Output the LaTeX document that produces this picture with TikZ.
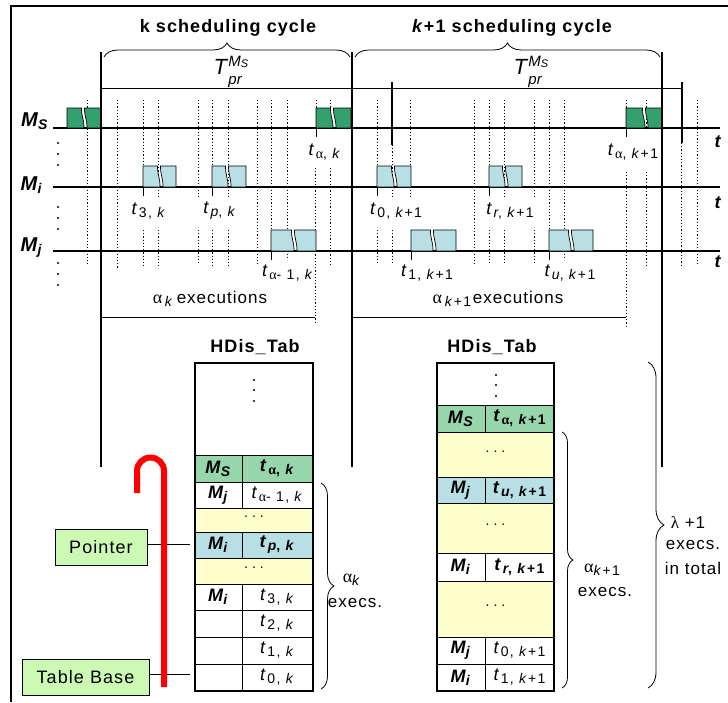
\documentclass[tikz,border=0pt]{standalone}
\usepackage{fontspec}
\setmainfont{Liberation Sans}
\newfontfamily\grk{Liberation Serif}
\newfontfamily\ls[LetterSpace=6]{Liberation Sans}
\newfontfamily\lss[LetterSpace=10]{Liberation Sans}
\usetikzlibrary{decorations.pathreplacing}
\definecolor{msg}{RGB}{52,160,110}
\definecolor{mib}{RGB}{184,224,228}
\definecolor{tg}{RGB}{150,214,170}
\definecolor{ty}{RGB}{255,255,204}
\definecolor{pg}{RGB}{204,250,180}
\newcommand{\fs}[1]{\fontsize{#1}{#1}\selectfont}
\newcommand{\sbs}[1]{\raisebox{-0.3em}{\lss\fs{14}#1}}
\newcommand{\tlab}[1]{{\fs{18}\textit{t}}\,\sbs{#1}}
\newcommand{\al}{{\grk α}}
\newcommand{\kk}{\textit{k}}
\newcommand{\mlab}[2]{{\fs{#1}\textbf{\textit{M}}}\sbs{\textbf{\textit{#2}}}}
\newcommand{\tpr}{{\fs{22}\textit{T}}\raisebox{-10pt}{\fs{15}\renewcommand{\arraystretch}{1.2}\begin{tabular}[b]{@{}l@{}}\textit{M}\raisebox{-1pt}{\fs{11}\textit{S}}\\ \textit{pr}\end{tabular}}}
\newcommand{\blk}[6]{%
 \filldraw[fill=#6,draw=black,line width=0.7pt] (#1,#4) -- ({#3-2.5},#4) .. controls ({#3-2.5},{#4+0.5*(#5-#4)}) and ({#3},{#4+0.5*(#5-#4)}) .. (#3,#5) -- (#1,#5) -- cycle;
 \filldraw[fill=#6,draw=black,line width=0.7pt] ({#3+0.5},#4) -- (#2,#4) -- (#2,#5) -- ({#3+3},#5) .. controls ({#3+3},{#4+0.5*(#5-#4)}) and ({#3+0.5},{#4+0.5*(#5-#4)}) .. ({#3+0.5},#4) -- cycle;}
\newcommand{\trow}[9]{%
 \filldraw[fill=#6,draw=black,line width=1pt] (#1,#4) rectangle (#2,#5);
 \filldraw[fill=#6,draw=black,line width=1pt] (#2,#4) rectangle (#3,#5);
 \node (#9a) at ({(#1+#2)/2},{(#4+#5)/2}) {#7};
 \node (#9b) at ({(#2+#3)/2},{(#4+#5)/2}) {#8};}
\newcommand{\frow}[6]{%
 \filldraw[fill=#5,draw=black,line width=1pt] (#1,#3) rectangle (#2,#4);
 \node (#6) at ({(#1+#2)/2},{(#3+#4)/2-3}) {\fs{14}.\hspace{4pt}.\hspace{4pt}.};}
\tikzset{dl/.style={line width=0.8pt,dash pattern=on 1.2pt off 2pt},
 br/.style={decorate,line width=0.8pt}}
\begin{document}
\begin{tikzpicture}[x=1pt,y=-1pt,every node/.style={inner sep=0pt}]
\useasboundingbox (0,0) rectangle (728,702);
\fill[white] (0,0) rectangle (728,702);
% frame
\draw[line width=1.2pt] (11,702) -- (11,6) -- (728,6);
% headers
\node[font=\ls\bfseries\fs{18}] (hk) at (228,28) {k scheduling cycle};
\node[font=\ls\bfseries\fs{18}] (hk1) at (512,28) {\textit{k}+1 scheduling cycle};
\draw[br,decoration={brace,amplitude=14pt}] (104,57) -- (350,57);
\draw[br,decoration={brace,amplitude=14pt}] (355,57) -- (660,57);
\node (tp1) at (231,72) {\tpr};
\node (tp2) at (531,72) {\tpr};
% dotted lines
\foreach \x/\a/\b in {87/100/265, 117/100/268, 143/100/187, 143/230/268, 158/100/197, 158/230/268, 198/100/197, 198/230/265, 212/100/187, 212/230/268, 228/100/197, 228/230/268, 257/100/265, 271/100/230, 287/100/260, 316/100/108, 315/168/323, 330/100/128, 330/168/265, 377/100/187, 377/230/265, 392/145/197, 392/230/265, 410/100/198, 474/100/265, 489/100/187, 489/230/265, 504/100/197, 504/230/265, 534/100/198, 534/230/265, 549/100/230, 564/100/260, 626/100/108, 626/172/327, 646/100/128, 646/172/265, 681/143/265, 697/100/265}
  \draw[dl] (\x,\a) -- (\x,\b);
% axes
\draw[line width=1.3pt] (53,128) -- (720,128);
\draw[line width=1.3pt] (53,187) -- (720,187);
\draw[line width=1.3pt] (53,251) -- (720,251);
% ticks
\foreach \x/\y in {316/128, 626/128, 143/187, 212/187, 377/187, 489/187, 271/251, 411/251, 549/251}
  \draw[line width=1pt] (\x,\y) -- (\x,{\y+9});
% blocks
\blk{67}{101}{84}{108}{128}{msg}
\blk{316}{351}{333}{108}{128}{msg}
\blk{626}{662}{645}{108}{128}{msg}
\blk{143}{176}{160}{166}{187}{mib}
\blk{212}{246}{228}{166}{187}{mib}
\blk{377}{411}{394}{166}{187}{mib}
\blk{489}{522}{505}{166}{187}{mib}
\blk{271}{316}{294}{230}{251}{mib}
\blk{411}{456}{433}{230}{251}{mib}
\blk{549}{593}{571}{230}{251}{mib}
% cycle lines
\draw[line width=1pt] (101,88) -- (682,88);
\draw[line width=2pt] (101,52) -- (101,467);
\draw[line width=2pt] (352,52) -- (352,467);
\draw[line width=2pt] (662,52) -- (662,467);
\draw[line width=1.3pt] (392,82) -- (392,145);
\draw[line width=1.3pt] (682,82) -- (682,143);
% left labels and dots
\node (lms) at (35,121) {\mlab{20}{S}};
\node (lmi) at (32,185) {\mlab{20}{i}};
\node (lmj) at (32,248) {\mlab{20}{j}};
\foreach \y in {143,154,165,207,218,229,263,274,285} \fill (58,\y) circle (1.2pt);
\node (ta1) at (718,142) {\fs{18}\textbf{\textit{t}}};
\node (ta2) at (718,203) {\fs{18}\textbf{\textit{t}}};
\node (ta3) at (718,262) {\fs{18}\textbf{\textit{t}}};
% time labels
\node (lak) at (325,152) {\tlab{\al,\ \kk}};
\node (lak1) at (633,152) {\tlab{\al,\ \kk+1}};
\node (l3k) at (149,211) {\tlab{3,\ \kk}};
\node (lpk) at (220,211) {\tlab{\textit{p},\ \kk}};
\node (la1k) at (288,273) {\tlab{\al- 1,\ \kk}};
\node (l0k1) at (396,211) {\tlab{0,\ \kk+1}};
\node (lrk1) at (510,211) {\tlab{\textit{r},\ \kk+1}};
\node (l1k1) at (427,273) {\tlab{1,\ \kk+1}};
\node (luk1) at (570,273) {\tlab{\textit{u},\ \kk+1}};
% executions
\node (ek) at (210,299) {{\fs{18}\al}\ \sbs{\kk}\ {\ls\fs{17}executions}};
\node (ek1) at (498,299) {{\fs{18}\al}\ \sbs{\kk+1}\,{\ls\fs{17}executions}};
\draw[line width=1pt] (101,317) -- (315,317);
\draw[line width=1pt] (352,317) -- (626,317);
% ---- left table
\node[font=\ls\bfseries\fs{18}] (h1) at (255,347) {HDis\_Tab};
\filldraw[fill=white,draw=black,line width=1pt] (195,363) rectangle (313,455);
\foreach \y in {380,390,401} \fill (254,\y) circle (1.1pt);
\trow{195}{242}{313}{455}{482}{tg}{\mlab{18}{S}}{\textbf{\tlab{\al,\ \kk}}}{A1}
\trow{195}{242}{313}{482}{508}{white}{\mlab{18}{j}}{\tlab{\al- 1,\ \kk}}{A2}
\frow{195}{313}{508}{532}{ty}{A3}
\trow{195}{242}{313}{532}{558}{mib}{\mlab{18}{i}}{\textbf{\tlab{\textit{p},\ \kk}}}{A4}
\frow{195}{313}{558}{584}{ty}{A5}
\trow{195}{242}{313}{584}{610}{white}{\mlab{18}{i}}{\tlab{3,\ \kk}}{A6}
\trow{195}{242}{313}{610}{637}{white}{}{\tlab{2,\ \kk}}{A7}
\trow{195}{242}{313}{637}{664}{white}{}{\tlab{1,\ \kk}}{A8}
\trow{195}{242}{313}{664}{691}{white}{}{\tlab{0,\ \kk}}{A9}
\draw[line width=2pt] (195,363) rectangle (313,691);
\draw[br,decoration={brace,amplitude=13pt}] (321,483) -- (321,689);
\node (bk1) at (352,580) {{\fs{18}\al}\sbs{\kk}};
\node (bk2) at (355,603) {\ls\fs{17}execs.};
% ---- right table
\node[font=\ls\bfseries\fs{18}] (h2) at (492,347) {HDis\_Tab};
\filldraw[fill=white,draw=black,line width=1pt] (437,363) rectangle (554,405);
\foreach \y in {375,385,396} \fill (496,\y) circle (1.1pt);
\trow{437}{485}{554}{405}{432}{tg}{\mlab{18}{S}}{\textbf{\tlab{\al,\ \kk+1}}}{B1}
\frow{437}{554}{432}{477}{ty}{B2}
\trow{437}{485}{554}{477}{503}{mib}{\mlab{18}{j}}{\textbf{\tlab{\textit{u},\ \kk+1}}}{B3}
\frow{437}{554}{503}{553}{ty}{B4}
\trow{437}{485}{554}{553}{581}{white}{\mlab{18}{i}}{\textbf{\tlab{\textit{r},\ \kk+1}}}{B5}
\frow{437}{554}{581}{637}{ty}{B6}
\trow{437}{485}{554}{637}{664}{white}{\mlab{18}{j}}{\tlab{0,\ \kk+1}}{B7}
\trow{437}{485}{554}{664}{691}{white}{\mlab{18}{i}}{\tlab{1,\ \kk+1}}{B8}
\draw[line width=2pt] (437,363) rectangle (554,691);
\draw[br,decoration={brace,amplitude=11pt}] (562,432) -- (562,688);
\node (ck1) at (602,570) {{\fs{18}\al}\sbs{\kk+1}};
\node (ck2) at (605,592) {\ls\fs{17}execs.};
\draw[br,decoration={brace,amplitude=16pt}] (648,362) -- (648,688);
\node (dk1) at (688,523) {\ls\fs{17}{\grk λ} +1};
\node (dk2) at (693,545) {\ls\fs{17}execs.};
\node (dk3) at (693,568) {\ls\fs{17}in total};
% pointer and base
\node[draw,fill=pg,line width=1pt,minimum width=92pt,minimum height=36pt] (ptr) at (101,547) {\ls\fs{18}Pointer};
\node[draw,fill=pg,line width=1pt,minimum width=127pt,minimum height=36pt] (tbase) at (85.5,677) {\ls\fs{18}Table Base};
\coordinate (pe) at (190,544);
\coordinate (be) at (190,674);
\draw[line width=1pt] (ptr.east|-pe) -- (pe);
\draw[line width=1pt] (tbase.east|-be) -- (be);
\draw[red,line width=6pt] (164,687) -- (164,471) .. controls (164,463.5) and (158,457.5) .. (150.5,457.5) .. controls (143,457.5) and (137,463.5) .. (137,471) -- (137,493);
\end{tikzpicture}
\end{document}
